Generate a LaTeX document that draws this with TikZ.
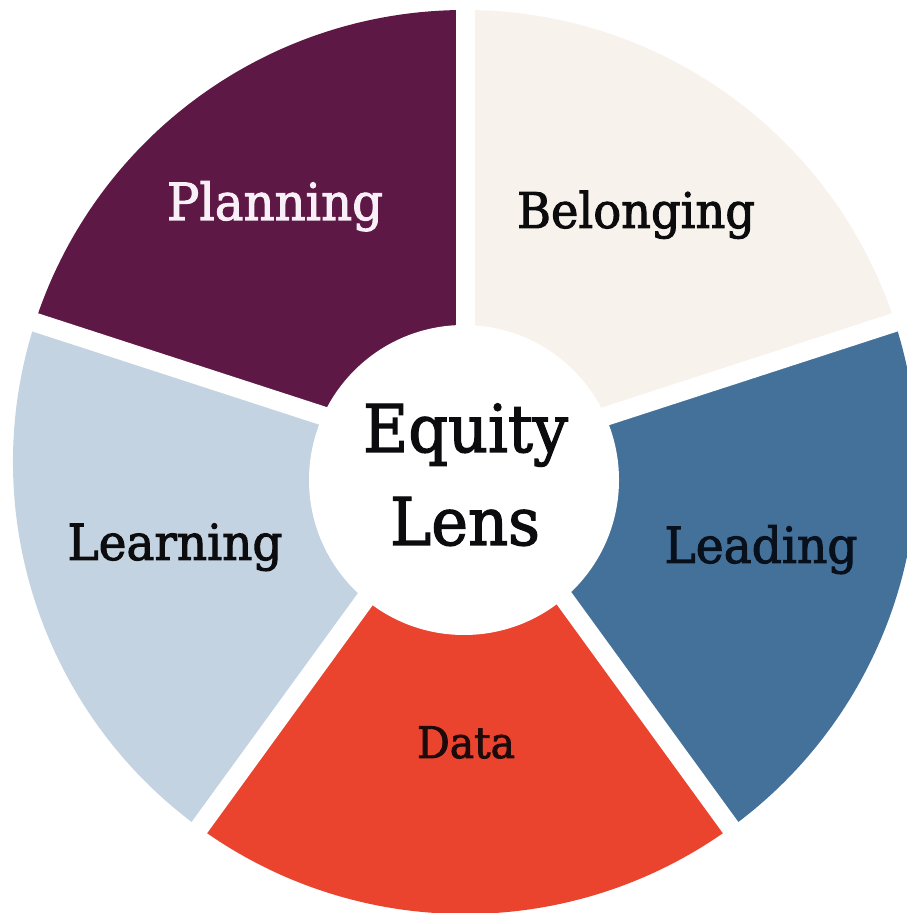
\documentclass[tikz,border=0pt]{standalone}
\usepackage{fontspec}
\setmainfont{DejaVu Serif}[FakeBold=2]
\usepackage{graphicx}
\definecolor{cPlan}{RGB}{94,24,70}
\definecolor{cBelong}{RGB}{247,243,236}
\definecolor{cLead}{RGB}{68,113,154}
\definecolor{cData}{RGB}{234,67,46}
\definecolor{cLearn}{RGB}{196,211,225}
\definecolor{cPlanTxt}{RGB}{248,240,246}
\definecolor{cDark}{RGB}{12,12,14}
\definecolor{cDataTxt}{RGB}{30,10,10}
\definecolor{cLeadTxt}{RGB}{8,16,28}
\newcommand{\fitlabel}[2]{\resizebox{#1pt}{!}{\scalebox{1}[1.06]{#2}}}
\begin{document}
\begin{tikzpicture}[x=1pt,y=1pt,
  gapline/.style={white,line width=19pt},
  lbl/.style={anchor=base,inner sep=0pt,outer sep=0pt},
  hub/.style={circle,fill=white,minimum size=310pt,inner sep=0pt}]
\useasboundingbox (0,0) rectangle (906,913);
\fill[white] (0,0) rectangle (906,913);
\coordinate (C) at (465,451);
% sectors
\fill[cPlan]   (C) -- ++(90:452)  arc (90:162:452)   -- cycle;
\fill[cBelong] (C) -- ++(18:452)  arc (18:90:452)    -- cycle;
\fill[cLead]   (C) -- ++(-54:452) arc (-54:18:452)   -- cycle;
\fill[cData]   (C) -- ++(-126:452) arc (-126:-54:452) -- cycle;
\fill[cLearn]  (C) -- ++(162:452) arc (162:234:452)  -- cycle;
% gaps
\foreach \a in {90,18,-54,-126,162}
  \draw[gapline] (C) -- ++(\a:480);
% hub
\node[hub] (hub) at (464,433) {};
% labels
\node[lbl,text=cPlanTxt] (planning) at (275,693) {\fitlabel{216}{Planning}};
\node[lbl,text=cDark] (belonging) at (636,685) {\fitlabel{238}{Belonging}};
\node[lbl,text=cDark] (learning) at (175,353) {\fitlabel{215}{Learning}};
\node[lbl,text=cLeadTxt] (leading) at (761,350) {\fitlabel{193}{Leading}};
\node[lbl,text=cDataTxt] (data) at (466,155) {\fitlabel{98}{Data}};
\node[lbl,text=cDark] (equity) at (465.5,461) {\fitlabel{205}{Equity}};
\node[lbl,text=cDark] (lens) at (465,368) {\fitlabel{150}{Lens}};
\end{tikzpicture}
\end{document}
